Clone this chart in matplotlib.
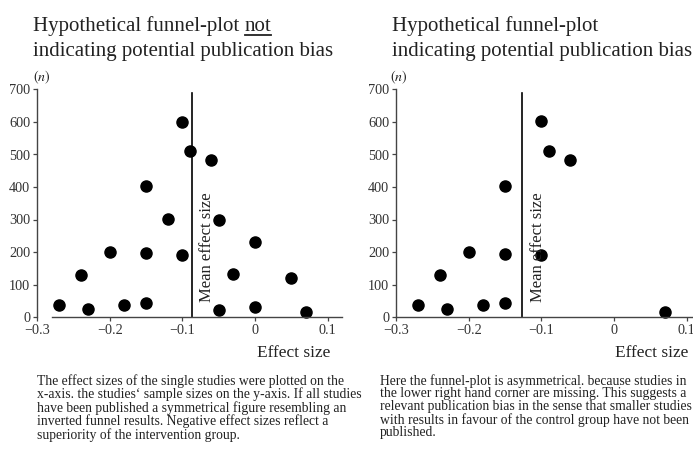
import matplotlib as mpl
mpl.use('Agg')
import matplotlib.pyplot as plt
from matplotlib.lines import Line2D

plt.rcParams['font.family'] = ['Liberation Serif', 'DejaVu Serif']
plt.rcParams['mathtext.fontset'] = 'stix'

# data
effect_sym = [-0.27, -0.24, -0.23, -0.20, -0.18, -0.15, -0.15, -0.15, -0.12, -0.10,
              -0.10, -0.09, -0.06, -0.05, -0.05, -0.03, 0.00, 0.00, 0.05, 0.07]
n_sym = [38, 128, 26, 200, 38, 402, 197, 42, 302, 600,
         190, 512, 484, 300, 22, 132, 232, 30, 120, 16]
effect_bias = [-0.27, -0.24, -0.23, -0.20, -0.18, -0.15, -0.15, -0.15, -0.10, -0.10,
               -0.09, -0.06, 0.07]
n_bias = [38, 130, 26, 200, 38, 402, 195, 42, 602, 190, 512, 484, 16]
mean_sym = -0.087
mean_bias = -0.126
mean_top = 690

x_ticks = [-0.3, -0.2, -0.1, 0, 0.1]
x_tick_labels = ['\u22120.3', '\u22120.2', '\u22120.1', '0', '0.1']
y_ticks = [0, 100, 200, 300, 400, 500, 600, 700]

caption_sym = ("The effect sizes of the single studies were plotted on the\n"
               "x-axis. the studies\u2018 sample sizes on the y-axis. If all studies\n"
               "have been published a symmetrical figure resembling an\n"
               "inverted funnel results. Negative effect sizes reflect a\n"
               "superiority of the intervention group.")
caption_bias = ("Here the funnel-plot is asymmetrical. because studies in\n"
                "the lower right hand corner are missing. This suggests a\n"
                "relevant publication bias in the sense that smaller studies\n"
                "with results in favour of the control group have not been\n"
                "published.")

W, H = 693, 458
INK = '#222222'


def fx(px):
    return px / W


def fy(py):
    return 1 - py / H


fig = plt.figure(figsize=(W / 100, H / 100), dpi=100)
renderer = fig.canvas.get_renderer()


def panel(left_px, effect, n, mean, x_start):
    ax = fig.add_axes([fx(left_px), fy(317), 305.3 / W, 227.5 / H])
    ax.set_xlim(-0.3, 0.12)
    ax.set_ylim(0, 700)
    ax.plot(effect, n, 'o', color='black', markersize=8, clip_on=False)
    ax.plot([mean, mean], [0, mean_top], color='black', lw=1.2)
    for s in ['top', 'right']:
        ax.spines[s].set_visible(False)
    for s in ['left', 'bottom']:
        ax.spines[s].set_color('#444444')
        ax.spines[s].set_linewidth(1.0)
    ax.spines['bottom'].set_bounds(x_start, 0.12)
    ax.spines['left'].set_bounds(0, 700)
    ax.set_xticks(x_ticks)
    ax.set_xticklabels(x_tick_labels)
    ax.set_yticks(y_ticks)
    ax.tick_params(length=3, width=0.9, color='#444444', labelsize=10.3,
                   labelcolor='#333333', pad=2)
    ax.patch.set_visible(False)
    ax.text(mean + 0.021, 47, 'Mean effect size', rotation=90, ha='center',
            va='bottom', fontsize=12, color=INK)
    return ax


panel(37, effect_sym, n_sym, mean_sym, -0.28)
panel(396, effect_bias, n_bias, mean_bias, -0.3)

# titles
t1 = fig.text(fx(33), fy(31), 'Hypothetical funnel-plot ', fontsize=15, color=INK)
bb = t1.get_window_extent(renderer)
t_not = fig.text(bb.x1 / W, fy(31), 'not', fontsize=15, color=INK)
bn = t_not.get_window_extent(renderer)
fig.add_artist(Line2D([bn.x0 / W, bn.x1 / W], [fy(35), fy(35)], color=INK, lw=1.3))
fig.text(fx(33), fy(56), 'indicating potential publication bias', fontsize=15, color=INK)
fig.text(fx(392), fy(31), 'Hypothetical funnel-plot', fontsize=15, color=INK)
fig.text(fx(392), fy(56), 'indicating potential publication bias', fontsize=15, color=INK)

# axis labels
for x0 in [33, 390]:
    fig.text(fx(x0), fy(81), r'$(n)$', fontsize=10, color=INK)
fig.text(fx(330), fy(353), 'Effect size', fontsize=12.5, color=INK, ha='right', va='center')
fig.text(fx(688), fy(353), 'Effect size', fontsize=12.5, color=INK, ha='right', va='center')

# captions
fig.text(fx(37), fy(374), caption_sym, fontsize=9.8, color=INK, va='top', linespacing=0.97)
fig.text(fx(380), fy(374), caption_bias, fontsize=9.8, color=INK, va='top', linespacing=0.97)

fig.savefig('out.png', dpi=100)
